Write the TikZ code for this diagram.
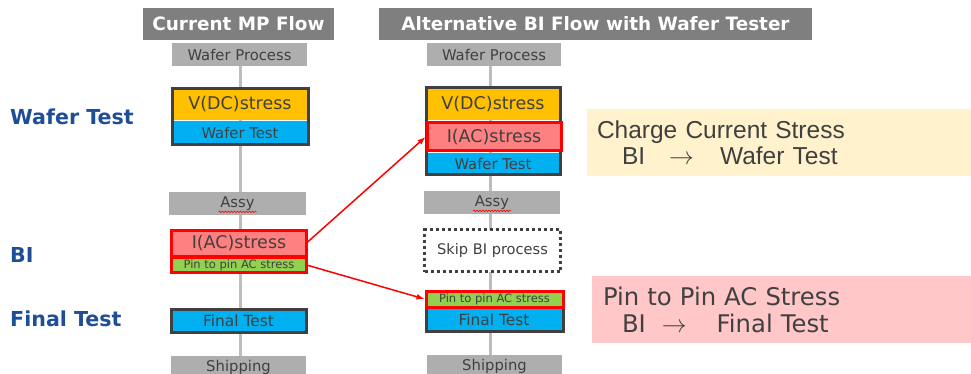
\documentclass[tikz,border=0pt]{standalone}
\usepackage{fontspec}
\setmainfont{DejaVu Sans}
\newfontfamily\arialf{Liberation Sans}
\usetikzlibrary{fit,backgrounds,arrows.meta,decorations.pathmorphing}
\definecolor{hdrgray}{HTML}{7F7F7F}
\definecolor{boxgray}{HTML}{AEAEAE}
\definecolor{txtgray}{HTML}{404040}
\definecolor{dcyel}{HTML}{FFC000}
\definecolor{wtblue}{HTML}{00B0F0}
\definecolor{acpink}{HTML}{FF8080}
\definecolor{ppgreen}{HTML}{92D050}
\definecolor{bred}{HTML}{FF0000}
\definecolor{dborder}{HTML}{404040}
\definecolor{lblue}{HTML}{1F4E99}
\definecolor{creamy}{HTML}{FFF2CC}
\definecolor{lpink}{HTML}{FFC7C7}
\definecolor{vlinec}{HTML}{BDBDBD}
\newcommand{\setfs}[1]{\fontsize{#1}{#1}\selectfont}
\tikzset{
  hdr/.style={fill=hdrgray, text=white, inner sep=0pt, outer sep=0pt, minimum height=32pt, font=\bfseries\setfs{18.4}},
  graybox/.style={fill=boxgray, text=txtgray, inner sep=0pt, outer sep=0pt, minimum height=23pt, minimum width=135pt, font=\setfs{14.8}},
  cell/.style={inner sep=0pt, outer sep=0pt, text=txtgray},
  redcell/.style={cell, draw=bred, line width=3pt},
  dblock/.style={draw=dborder, line width=3pt, inner sep=0pt, outer sep=0pt},
  vlin/.style={draw=vlinec, line width=3pt},
  redarrow/.style={draw=bred, line width=1.5pt, -{Latex[length=8pt,width=6pt]}},
  lbl/.style={anchor=west, inner sep=0pt, text=lblue, font=\bfseries\setfs{20.6}},
  wavy/.style={draw=bred, line width=0.6pt, decorate, decoration={snake, segment length=3pt, amplitude=0.8pt}}
}
\begin{document}
\begin{tikzpicture}[x=1pt,y=-1pt]
\useasboundingbox (0,0) rectangle (971,374);

% headers
\node[hdr, minimum width=191pt] (hL) at (238.5,24) {Current MP Flow};
\node[hdr, minimum width=433pt] (hR) at (595.5,24) {Alternative BI Flow with Wafer Tester};

% left labels
\node[lbl] (lwt) at (10,117) {Wafer Test};
\node[lbl] (lbi) at (10,255) {BI};
\node[lbl] (lft) at (10,319) {Final Test};

% left column
\node[graybox] (wpL) at (239.5,54.5) {Wafer Process};
\node[cell, fill=dcyel, minimum width=136pt, minimum height=31pt, font=\setfs{17.5}] (vdcL) at (240,104.5) {V(DC)stress};
\node[cell, fill=wtblue, minimum width=136pt, minimum height=24pt, font=\setfs{14.8}] (wtL) at (240,133) {Wafer Test};
\node[dblock, fit=(vdcL)(wtL)] (bkL) {};
\node[graybox, minimum width=137pt] (asL) at (237.5,203.5) {Assy};
\draw[wavy] ([xshift=-19pt,yshift=-4.5pt]asL.base) -- ([xshift=19pt,yshift=-4.5pt]asL.base);
\node[redcell, fill=acpink, minimum width=135pt, minimum height=26pt, font=\setfs{17.5}] (iacL) at (239,243) {I(AC)stress};
\node[redcell, fill=ppgreen, minimum width=135pt, minimum height=15pt, font=\setfs{11.5}] (ppL) at (239,265) {Pin to pin AC stress};
\node[cell, fill=wtblue, draw=dborder, line width=3pt, minimum width=135pt, minimum height=23pt, font=\setfs{15.4}] (ftL) at (238.5,320.5) {Final Test};
\node[graybox] (shL) at (238.5,367) {Shipping};

% right column
\node[graybox, minimum width=134pt] (wpR) at (494,54.5) {Wafer Process};
\node[cell, fill=dcyel, minimum width=134pt, minimum height=33pt, font=\setfs{17.5}] (vdcR) at (493,104) {V(DC)stress};
\node[cell, fill=wtblue, minimum width=134pt, minimum height=22pt, font=\setfs{14.8}] (wtR) at (493,164) {Wafer Test};
\node[dblock, fit=(vdcR)(wtR)] (bkR) {};
\node[redcell, fill=acpink, minimum width=134pt, minimum height=28pt, font=\setfs{17.5}] (iacR) at (494,137) {I(AC)stress};
\node[graybox, minimum width=136pt, minimum height=22pt] (asR) at (492,202.5) {Assy};
\draw[wavy] ([xshift=-19pt,yshift=-4.5pt]asR.base) -- ([xshift=19pt,yshift=-4.5pt]asR.base);
\node[cell, fill=white, draw=dborder, line width=3pt, dash pattern=on 3pt off 3pt, minimum width=136pt, minimum height=42pt, font=\setfs{14.6}] (skR) at (492.5,250.5) {Skip BI process};
\node[cell, fill=wtblue, minimum width=135pt, minimum height=22pt, font=\setfs{15.4}] (ftR) at (494,320) {Final Test};
\node[cell, fill=ppgreen, minimum width=137pt, minimum height=16pt] (ppRb) at (494.5,299) {};
\node[dblock, fit=(ppRb)(ftR)] (bkR2) {};
\node[redcell, fill=ppgreen, minimum width=137pt, minimum height=16pt, font=\setfs{11.5}] (ppR) at (494.5,299) {Pin to pin AC stress};
\node[graybox] (shR) at (494.5,366.5) {Shipping};

% vertical flow lines
\coordinate (lxL) at (240,0);
\coordinate (lxR) at (490,0);
\begin{pgfonlayer}{background}
\draw[vlin] (wpL.south -| lxL) -- (shL.north -| lxL);
\draw[vlin] (wpR.south -| lxR) -- (shR.north -| lxR);
\end{pgfonlayer}

% red arrows
\draw[redarrow] (iacL.east) -- ([xshift=-1.5pt]iacR.west);
\draw[redarrow] (ppL.east) -- ([xshift=-1.5pt]ppR.west);

% explanation boxes
\node[fill=creamy, minimum width=384pt, minimum height=67pt, text width=364pt, inner xsep=10pt, inner ysep=0pt, align=left, text=txtgray, font=\arialf\fontsize{24.5}{26.5}\selectfont] (ccs) at (779,142.5)
 {Charge Current Stress\\\hspace*{25pt}BI\hspace{24pt}$\rightarrow$\hspace{26pt}Wafer Test};
\node[fill=lpink, minimum width=379pt, minimum height=67pt, text width=357pt, inner xsep=11pt, inner ysep=0pt, align=left, text=txtgray, font=\fontsize{24.3}{27}\selectfont] (pps) at (781.5,309.5)
 {Pin to Pin AC Stress\\\hspace*{19pt}BI\hspace{16pt}$\rightarrow$\hspace{30pt}Final Test};
\end{tikzpicture}
\end{document}
